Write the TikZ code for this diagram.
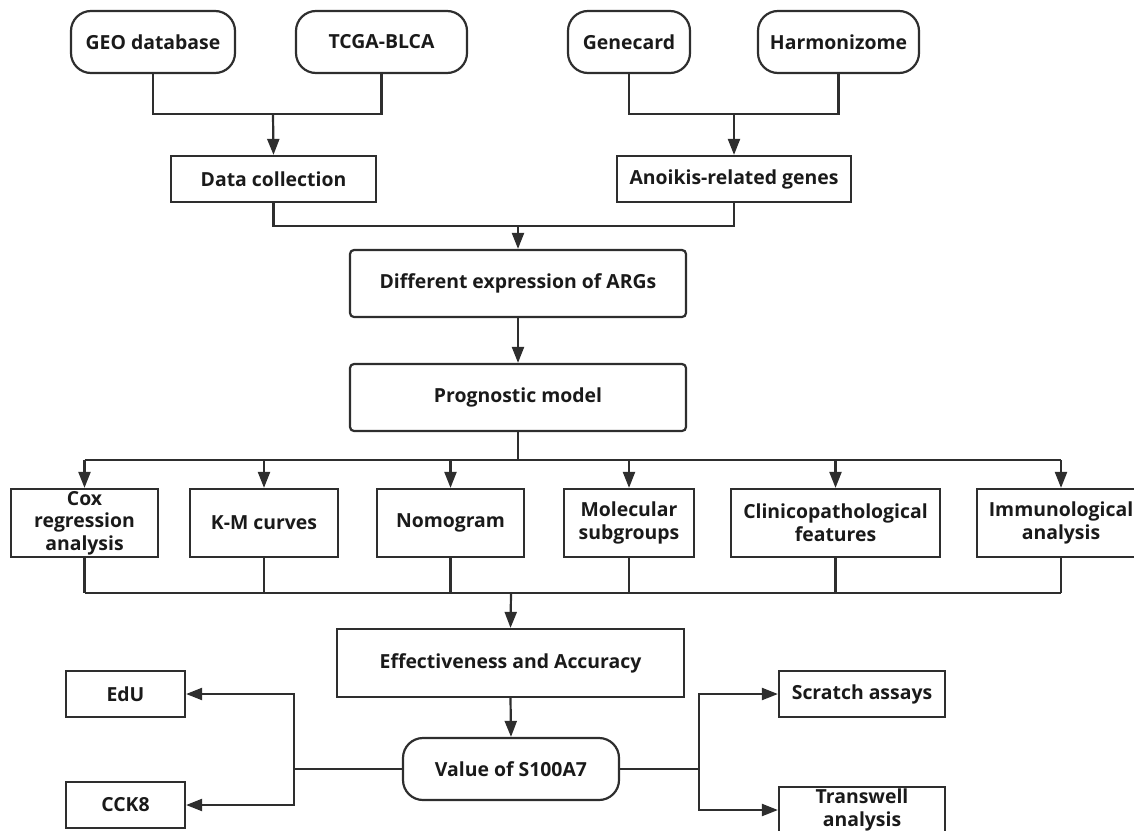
\documentclass[tikz,border=0pt]{standalone}
\usepackage{fontspec}
\setmainfont{Open Sans}
\usetikzlibrary{arrows.meta}
\definecolor{ln}{HTML}{2E2E2E}
\definecolor{tx}{HTML}{1A1A1A}
\begin{document}
\begin{tikzpicture}[x=0.5pt,y=-0.5pt,
  base/.style={draw=ln, line width=1.1pt, text=tx, inner xsep=2pt, inner ysep=0pt, align=center,
    font=\fontsize{9.7}{11.3}\selectfont\bfseries},
  box/.style={base, rectangle},
  rbox/.style={base, rectangle, rounded corners=2pt},
  term/.style={base, rectangle, rounded corners=10pt},
  conn/.style={draw=ln, line width=1.1pt},
  arr/.style={conn, -{Triangle[length=8pt,width=6pt]}}]
\useasboundingbox (0,0) rectangle (1134,830);
\clip (0,0) rectangle (1134,830);
% top terminals
\node[term, minimum width=82pt, minimum height=31pt] (geo) at (153,42) {GEO database};
\node[term, minimum width=85.5pt, minimum height=31pt] (tcga) at (381.5,42) {TCGA-BLCA};
\node[term, minimum width=61pt, minimum height=31pt] (gene) at (629,42) {Genecard};
\node[term, minimum width=80.5pt, minimum height=31pt] (harm) at (838.5,42) {Harmonizome};
\node[box, minimum width=102.5pt, minimum height=23pt] (data) at (273.5,179) {Data collection};
\node[box, minimum width=117pt, minimum height=23pt] (anoi) at (734,179) {Anoikis-related genes};
\node[rbox, minimum width=168pt, minimum height=33.5pt] (diff) at (518,283.5) {Different expression of ARGs};
\node[rbox, minimum width=168pt, minimum height=33.5pt] (prog) at (518,397.5) {Prognostic model};
% row
\node[box, minimum width=73.5pt, minimum height=34pt] (cox) at (84.5,523) {Cox\\regression\\analysis};
\node[box, minimum width=74pt, minimum height=34pt] (km) at (264,523) {K-M curves};
\node[box, minimum width=73.5pt, minimum height=34pt] (nomo) at (450.5,523) {Nomogram};
\node[box, minimum width=65pt, minimum height=34pt] (mol) at (629,523) {Molecular\\subgroups};
\node[box, minimum width=104.5pt, minimum height=34pt] (clin) at (835.5,523) {Clinicopathological\\features};
\node[box, minimum width=84pt, minimum height=34pt] (immu) at (1061,523) {Immunological\\analysis};
% bottom
\node[box, minimum width=173.5pt, minimum height=34pt] (eff) at (510.5,663) {Effectiveness and Accuracy};
\node[term, minimum width=108pt, minimum height=31pt] (val) at (511,769) {Value of S100A7};
\node[box, minimum width=59.5pt, minimum height=23pt] (edu) at (125.5,694) {EdU};
\node[box, minimum width=59.5pt, minimum height=23pt] (cck) at (125.5,805) {CCK8};
\node[box, minimum width=83pt, minimum height=23pt] (scr) at (862,694) {Scratch assays};
\node[box, minimum width=83pt, minimum height=23pt] (trw) at (862,810) {Transwell\\analysis};
% junction coordinates
\coordinate (j1) at (273,114);
\coordinate (j2) at (734,114);
\coordinate (j3) at (518,226);
\coordinate (bt) at (518,460);
\coordinate (bb) at (511,593);
\coordinate (jl) at (294,769);
\coordinate (jr) at (699,769);
% connectors
\draw[conn] (geo.south) |- (j1) -| (tcga.south);
\draw[arr] (j1) -- (data.north);
\draw[conn] (gene.south) |- (j2) -| (harm.south);
\draw[arr] (j2) -- (anoi.north);
\draw[conn] (data.south) |- (j3) -| (anoi.south);
\draw[arr] (j3) -- (diff.north);
\draw[arr] (diff.south) -- (prog.north);
\draw[conn] (prog.south) -- (bt);
\draw[conn] (cox.north |- bt) -- (immu.north |- bt);
\foreach \n in {cox,km,nomo,mol,clin,immu}{
  \draw[arr] (\n.north |- bt) -- (\n.north);
  \draw[conn] (\n.south) -- (\n.south |- bb);
}
\draw[conn] (cox.south |- bb) -- (immu.south |- bb);
\draw[arr] (bb) -- (eff.north);
\draw[arr] (eff.south) -- (val.north);
\draw[conn] (val.west) -- (jl);
\draw[arr] (jl) |- (edu.east);
\draw[arr] (jl) |- (cck.east);
\draw[conn] (val.east) -- (jr);
\draw[arr] (jr) |- (scr.west);
\draw[arr] (jr) |- (trw.west);
\end{tikzpicture}
\end{document}
